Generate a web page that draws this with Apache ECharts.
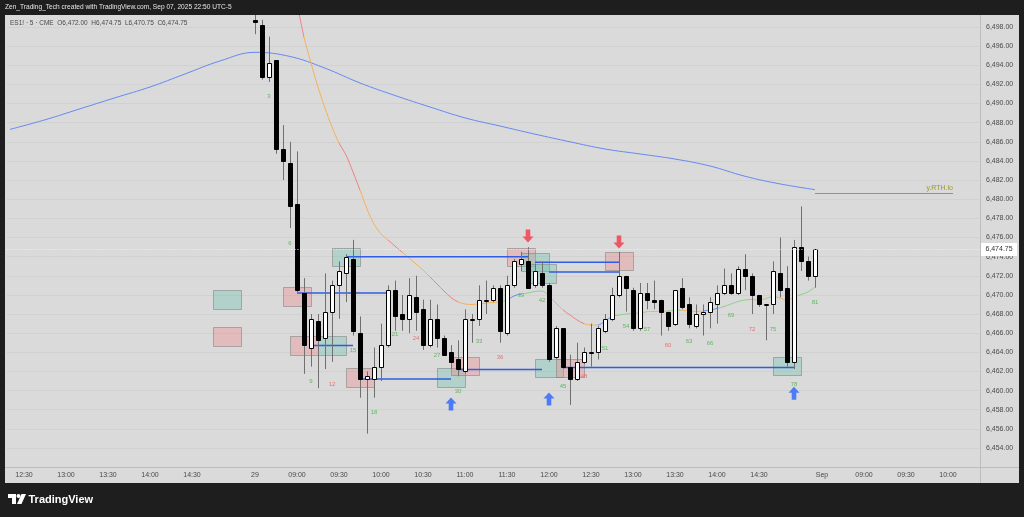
<!DOCTYPE html>
<html><head><meta charset="utf-8">
<script src="https://cdn.jsdelivr.net/npm/echarts@6/dist/echarts.min.js"></script>
<style>html,body{margin:0;padding:0;background:#1e1e1e;}#c{width:1024px;height:517px;}</style>
</head><body><div id="c"></div>
<script>
// ---- time axis sessions (day label, first bar, last bar), 5-minute bars ----
const sessions = [['28','12:20','15:10'],['29','08:30','15:10'],['Sep','08:30','10:20']];
const tickCats = ['28 12:30','28 13:00','28 13:30','28 14:00','28 14:30','29 08:30','29 09:00','29 09:30','29 10:00','29 10:30','29 11:00','29 11:30','29 12:00','29 12:30','29 13:00','29 13:30','29 14:00','29 14:30','Sep 08:30','Sep 09:00','Sep 09:30','Sep 10:00'];
const tickLabels = ['12:30','13:00','13:30','14:00','14:30','29','09:00','09:30','10:00','10:30','11:00','11:30','12:00','12:30','13:00','13:30','14:00','14:30','Sep','09:00','09:30','10:00'];
const firstBar = '29 08:30';

// ---- ES1! 5m candles, Aug 29 08:30 .. 15:10 ----
const opens  = [6498.75,6498.25,6492.75,6494.5,6485.25,6483.75,6479.5,6470.25,6464.5,6467.25,6465.5,6468.25,6471.0,6472.25,6473.75,6466.0,6461.25,6461.25,6462.5,6464.75,6470.5,6468.0,6467.5,6469.75,6468.5,6464.75,6467.5,6465.5,6464.0,6463.25,6462.0,6467.5,6467.5,6469.5,6469.5,6470.75,6466.0,6471.0,6473.25,6473.5,6471.0,6472.25,6471.0,6463.5,6466.5,6462.5,6461.25,6463.0,6464.0,6464.0,6466.25,6467.5,6470.0,6472.0,6470.5,6466.5,6470.25,6469.5,6469.5,6468.25,6467.0,6470.75,6469.0,6466.75,6468.0,6468.25,6469.0,6470.25,6471.0,6470.25,6472.75,6472.0,6470.0,6469.0,6469.0,6472.25,6470.75,6463.0,6475.0,6473.5,6472.0];
const highs  = [6499.25,6498.75,6497.0,6494.5,6487.75,6486.0,6485.0,6471.75,6468.0,6468.0,6472.25,6471.5,6473.5,6474.25,6475.75,6467.75,6462.0,6464.5,6467.0,6471.0,6471.5,6470.0,6471.75,6472.0,6469.5,6469.5,6469.0,6465.75,6464.75,6465.25,6468.5,6468.0,6471.0,6471.5,6471.0,6471.0,6472.0,6473.75,6474.5,6475.0,6473.25,6473.5,6471.25,6466.75,6466.5,6463.75,6465.0,6464.5,6467.0,6466.75,6468.0,6470.75,6474.5,6472.0,6470.75,6471.25,6471.25,6471.5,6469.5,6468.25,6470.5,6471.75,6469.75,6469.0,6469.0,6469.75,6471.0,6472.75,6472.25,6473.0,6474.25,6472.25,6470.0,6469.0,6473.5,6476.0,6473.0,6475.75,6479.25,6474.0,6474.75];
const lows   = [6497.25,6492.5,6492.25,6484.75,6482.0,6477.0,6470.25,6461.75,6462.5,6460.25,6462.25,6463.0,6467.5,6469.25,6465.75,6459.25,6455.5,6459.25,6461.0,6464.5,6466.25,6466.25,6466.0,6466.25,6464.25,6464.5,6464.5,6463.75,6462.25,6461.5,6461.75,6465.0,6466.75,6468.0,6469.25,6465.0,6465.75,6470.75,6472.5,6470.75,6470.75,6470.75,6463.0,6463.25,6462.25,6458.5,6461.0,6462.75,6462.5,6463.25,6466.0,6467.25,6469.75,6468.25,6466.25,6466.25,6468.5,6468.5,6465.75,6466.25,6466.75,6468.5,6466.5,6466.5,6465.75,6466.5,6467.0,6470.0,6470.0,6470.0,6470.5,6468.0,6468.75,6465.25,6468.0,6469.75,6462.5,6462.25,6472.5,6471.5,6470.75];
const closes = [6498.5,6492.75,6494.25,6485.25,6484.0,6479.25,6470.5,6464.75,6467.5,6465.25,6468.25,6471.0,6472.5,6474.0,6466.25,6461.25,6461.5,6462.5,6464.75,6470.5,6467.75,6467.5,6470.0,6468.25,6464.75,6467.5,6465.5,6463.75,6463.0,6462.25,6467.5,6467.5,6469.5,6469.5,6470.75,6466.25,6471.0,6473.5,6473.75,6470.75,6472.5,6471.0,6463.25,6466.5,6462.5,6461.25,6463.0,6464.0,6464.0,6466.5,6467.5,6470.0,6472.0,6470.75,6466.5,6470.25,6469.5,6469.25,6468.25,6466.75,6470.5,6468.75,6467.0,6468.0,6468.25,6469.25,6470.25,6471.0,6470.25,6472.75,6472.0,6470.0,6469.0,6469.0,6472.5,6470.5,6463.0,6475.0,6473.5,6472.0,6474.75];
const lastPrice = 6474.75;

// ---- long moving average (blue), bar index -> value ----
const maIdx = [0,5,10,15,20,25,30,35,40,45,50,55,60,65,70,75,80,85,90,95,100,105,110,115];
const maVal = [6487.3,6488.3,6489.45,6490.6,6491.73,6493.09,6494.45,6495.35,6494.92,6493.7,6492.15,6490.84,6489.64,6488.5,6487.65,6486.8,6486.0,6485.25,6484.73,6484.2,6483.47,6482.4,6481.6,6481.0];

// ---- colored session average, bar index 41..115 ----
const avgStart = 41;
const avgVal = [6500.5,6496.95,6494.24,6491.73,6489.53,6487.55,6485.88,6484.62,6482.85,6480.96,6478.98,6477.4,6476.37,6475.74,6475.1,6474.48,6473.86,6473.23,6472.6,6471.87,6471.14,6470.4,6469.73,6469.26,6469.05,6469.0,6469.05,6469.15,6469.2,6469.26,6469.47,6469.89,6470.1,6470.2,6470.36,6470.41,6469.89,6469.15,6468.42,6467.9,6467.38,6467.0,6466.85,6466.85,6467.27,6467.74,6467.9,6468.0,6468.06,6468.1,6468.24,6468.27,6468.27,6468.32,6468.37,6468.42,6468.32,6468.27,6468.32,6468.42,6468.58,6468.79,6469.05,6469.31,6469.47,6469.52,6469.47,6469.63,6469.84,6469.68,6469.42,6469.78,6470.04,6470.3,6470.83];
const avgColorFrom = [0,42,47,50,54,56,60,64,70,71,73,77,79,82,84,86,91,94,96,99,101,106,108,110,112];
const avgColorKey  = ['r','o','r','o','r','o','r','o','g','b','g','o','r','o','b','g','o','g','o','b','g','o','g','o','g'];

// ---- level lines: from bar, to bar, price ----
const lvlFrom  = [48,75,77,41,43,50,64,79];
const lvlTo    = [74,87,87,54,49,63,76,112];
const lvlPrice = [6474.0,6473.4,6472.4,6470.2,6464.7,6461.2,6462.2,6462.4];

// ---- zones: centre bar, top, bottom, kind (t=teal, p=pink) ----
const zoneBar  = [31,31,41,48,42,46,50,63,65,73,75,76,77,80,87,111];
const zoneTop  = [6470.5,6466.68,6470.86,6474.94,6465.7,6465.7,6462.33,6462.33,6463.48,6474.87,6474.35,6473.2,6463.27,6463.27,6474.52,6463.48];
const zoneBot  = [6468.5,6464.69,6468.87,6473.02,6463.72,6463.72,6460.34,6460.34,6461.56,6472.95,6472.43,6471.21,6461.35,6461.35,6472.6,6461.6];
const zoneKind = ['t','p','p','t','p','t','p','t','p','p','t','t','t','p','p','t'];

// ---- signal arrows ----
const upBar = [63,77,112], upPrice = [6458.6,6459.12,6459.72];
const dnBar = [74,87],     dnPrice = [6476.16,6475.53];

// ---- bar count labels ----
const countNum   = [3,6,9,12,15,18,21,24,27,30,33,36,39,42,45,48,51,54,57,60,63,66,69,72,75,78,81];
const countPrice = [6490.72,6475.39,6460.93,6460.69,6464.17,6457.73,6465.91,6465.46,6463.72,6459.88,6465.18,6463.44,6469.99,6469.39,6460.48,6461.45,6464.42,6466.68,6466.44,6464.69,6465.18,6464.94,6467.9,6466.44,6466.44,6460.69,6469.18];

// ---- previous RTH low ----
const rthLoFrom = 115, rthLoTo = 135, rthLoPrice = 6480.62, rthLoText = 'y.RTH.lo';

// ================= build =================
const cats = [];
sessions.forEach(([d, s, e]) => {
  let [h, m] = s.split(':').map(Number); const [eh, em] = e.split(':').map(Number);
  while (h * 60 + m <= eh * 60 + em) {
    cats.push(d + ' ' + String(h).padStart(2, '0') + ':' + String(m).padStart(2, '0'));
    m += 5; if (m >= 60) { m -= 60; h++; }
  }
});
const k0 = cats.indexOf(firstBar);
const candleData = opens.map((o, i) => [k0 + i, o, highs[i], lows[i], closes[i]]);
const colors = {r:'#f07f86', o:'#f5b057', g:'#8ccf8c', b:'#5d8ef2'};
const pieces = avgColorFrom.map((f, i) => {
  const p = {gte: f, color: colors[avgColorKey[i]]};
  if (i < avgColorFrom.length - 1) p.lt = avgColorFrom[i + 1];
  return p;
});
const FONT = '"Liberation Sans", Arial, sans-serif';

const chart = echarts.init(document.getElementById('c'), null, {renderer: 'canvas'});
chart.setOption({
  animation: false,
  backgroundColor: '#dadada',
  grid: {left: 6.5, right: 44.5, top: 7.864, bottom: 49.87},
  xAxis: {
    type: 'category', data: cats, boundaryGap: true,
    axisLine: {show: false}, axisTick: {show: false}, splitLine: {show: false},
    axisLabel: {
      interval: (i, v) => tickCats.indexOf(v) >= 0,
      formatter: v => tickLabels[tickCats.indexOf(v)] || '',
      fontSize: 7, color: '#4a4a4a', margin: 4.5, fontFamily: FONT
    }
  },
  yAxis: {
    type: 'value', position: 'right', min: 6452, max: 6500, interval: 2, scale: true,
    axisLine: {show: false}, axisTick: {show: false},
    splitLine: {show: true, lineStyle: {color: '#d1d1d1', width: 1}},
    axisLabel: {
      showMinLabel: false, showMaxLabel: false, margin: 6.5,
      formatter: v => v.toLocaleString('en-US', {minimumFractionDigits: 2, maximumFractionDigits: 2}),
      fontSize: 7, color: '#4a4a4a', fontFamily: FONT
    }
  },
  visualMap: {show: false, type: 'piecewise', seriesIndex: 1, dimension: 0, pieces: pieces},
  series: [
    { // 0 long MA
      type: 'line', data: maIdx.map((k, i) => [k, maVal[i]]), smooth: 0.4, symbol: 'none',
      lineStyle: {color: '#6688f2', width: 1}, z: 2
    },
    { // 1 colored average
      type: 'line', data: avgVal.map((v, i) => [avgStart + i, v]), smooth: 0.3, symbol: 'none',
      lineStyle: {width: 1}, z: 2
    },
    { // 2 zones
      type: 'custom', z: 3,
      data: zoneBar.map((k, i) => [k, zoneTop[i], zoneBot[i], zoneKind[i] === 't' ? 0 : 1]),
      encode: {x: 0, y: [1, 2]},
      renderItem: (params, api) => {
        const a = api.coord([api.value(0), api.value(1)]);
        const b = api.coord([api.value(0), api.value(2)]);
        const bw = api.size([1, 0])[0];
        const teal = api.value(3) === 0;
        return {type: 'rect', shape: {x: Math.round(a[0] - 2 * bw) + 0.5, y: Math.round(a[1]) + 0.5, width: Math.round(4 * bw), height: Math.round(b[1] - a[1])},
          style: {fill: teal ? 'rgba(110,195,175,0.38)' : 'rgba(240,135,135,0.36)', stroke: 'rgba(125,125,125,0.55)', lineWidth: 1}};
      }
    },
    { // 3 level lines
      type: 'custom', z: 4,
      data: lvlFrom.map((k, i) => [k, lvlTo[i], lvlPrice[i]]),
      encode: {x: [0, 1], y: 2},
      renderItem: (params, api) => {
        const a = api.coord([api.value(0), api.value(2)]);
        const b = api.coord([api.value(1), api.value(2)]);
        return {type: 'line', shape: {x1: a[0], y1: a[1], x2: b[0], y2: b[1]}, style: {stroke: '#2f5ce0', lineWidth: 1.5}};
      }
    },
    { // 4 candles
      type: 'custom', z: 5, data: candleData, encode: {x: 0, y: [1, 2, 3, 4]},
      renderItem: (params, api) => {
        const k = api.value(0), o = api.value(1), h = api.value(2), l = api.value(3), c = api.value(4);
        const pO = api.coord([k, o]), pC = api.coord([k, c]), pH = api.coord([k, h]), pL = api.coord([k, l]);
        const x = Math.round(pO[0]) + 0.5;
        const top = Math.round(Math.min(pO[1], pC[1])) + 0.5, bot = Math.round(Math.max(pO[1], pC[1])) + 0.5;
        const up = c >= o;
        return {type: 'group', children: [
          {type: 'line', shape: {x1: x, y1: pH[1], x2: x, y2: pL[1]}, style: {stroke: '#707070', lineWidth: 1}},
          {type: 'rect', shape: {x: x - 2, y: top, width: 4, height: Math.max(bot - top, 1)}, style: {fill: up ? '#ffffff' : '#000000', stroke: '#000000', lineWidth: 1}}
        ]};
      }
    },
    { // 5 up arrows
      type: 'scatter', z: 6, data: upBar.map((k, i) => [k, upPrice[i]]),
      symbol: 'path://M6,0 L12,6 L8.5,6 L8.5,13 L3.5,13 L3.5,6 L0,6 Z', symbolSize: [11, 13],
      itemStyle: {color: '#2962ff'}
    },
    { // 6 down arrows
      type: 'scatter', z: 6, data: dnBar.map((k, i) => [k, dnPrice[i]]),
      symbol: 'path://M3.5,0 L8.5,0 L8.5,7 L12,7 L6,13 L0,7 L3.5,7 Z', symbolSize: [11, 13],
      itemStyle: {color: '#f23645'}
    },
    { // 7 count labels
      type: 'custom', z: 6,
      data: countNum.map((n, i) => [k0 + n - 1, countPrice[i], n]),
      encode: {x: 0, y: 1},
      renderItem: (params, api) => {
        const p = api.coord([api.value(0), api.value(1)]);
        const n = api.value(2);
        return {type: 'text', x: p[0], y: p[1], style: {text: String(n), fill: n % 12 === 0 ? '#e57373' : '#5fb85f', font: '6px ' + FONT, align: 'center', verticalAlign: 'middle'}};
      }
    },
    { // 8 previous RTH low
      type: 'custom', z: 4, data: [[rthLoFrom, rthLoTo, rthLoPrice]], encode: {x: [0, 1], y: 2},
      renderItem: (params, api) => {
        const a = api.coord([api.value(0), api.value(2)]);
        const b = api.coord([api.value(1), api.value(2)]);
        return {type: 'group', children: [
          {type: 'line', shape: {x1: a[0], y1: Math.round(a[1]) + 0.5, x2: b[0] - 2, y2: Math.round(a[1]) + 0.5}, style: {stroke: '#9a9a45', lineWidth: 1}},
          {type: 'text', x: b[0] - 2, y: a[1] - 5, style: {text: rthLoText, fill: '#9c9c1e', font: '7px ' + FONT, align: 'right', verticalAlign: 'middle'}}
        ]};
      }
    },
    { // 9 last price line + label
      type: 'custom', z: 7, data: [[k0, lastPrice]], encode: {x: 0, y: 1},
      renderItem: (params, api) => {
        const p = api.coord([api.value(0), api.value(1)]);
        const cs = params.coordSys;
        const y = Math.round(p[1]) + 0.5;
        return {type: 'group', children: [
          {type: 'line', shape: {x1: cs.x, y1: y, x2: cs.x + cs.width, y2: y}, style: {stroke: '#f4f4f4', lineWidth: 1, lineDash: [1, 2]}},
          {type: 'rect', shape: {x: 981, y: y - 6.5, width: 36, height: 13}, style: {fill: '#ffffff'}},
          {type: 'text', x: 999, y: y, style: {text: '6,474.75', fill: '#333333', font: '7px ' + FONT, align: 'center', verticalAlign: 'middle'}}
        ]};
      }
    }
  ],
  graphic: [
    {type: 'rect', shape: {x: 0, y: 0, width: 1024, height: 15}, style: {fill: '#1e1e1e'}, z: 100},
    {type: 'rect', shape: {x: 0, y: 0, width: 5, height: 517}, style: {fill: '#1e1e1e'}, z: 100},
    {type: 'rect', shape: {x: 1019, y: 0, width: 5, height: 517}, style: {fill: '#1e1e1e'}, z: 100},
    {type: 'rect', shape: {x: 0, y: 483, width: 1024, height: 34}, style: {fill: '#1e1e1e'}, z: 100},
    {type: 'line', shape: {x1: 980.5, y1: 15, x2: 980.5, y2: 483}, style: {stroke: '#bdbdbd', lineWidth: 1}, z: 90},
    {type: 'line', shape: {x1: 5, y1: 467.5, x2: 1019, y2: 467.5}, style: {stroke: '#bdbdbd', lineWidth: 1}, z: 90},
    {type: 'text', x: 5, y: 7.5, style: {text: 'Zen_Trading_Tech created with TradingView.com, Sep 07, 2025 22:50 UTC-5', fill: '#e6e6e6', font: '6.6px ' + FONT, verticalAlign: 'middle'}, z: 101},
    {type: 'text', x: 10, y: 23.5, style: {text: 'ES1! · 5 · CME  O6,472.00  H6,474.75  L6,470.75  C6,474.75', fill: '#4a4a4a', font: '6.5px ' + FONT, verticalAlign: 'middle'}, z: 101},
    {type: 'polygon', shape: {points: [[8,494],[16,494],[16,504],[12,504],[12,498],[8,498]]}, style: {fill: '#ffffff'}, z: 101},
    {type: 'circle', shape: {cx: 18.5, cy: 496, r: 2}, style: {fill: '#ffffff'}, z: 101},
    {type: 'polygon', shape: {points: [[21.5,494],[26,494],[21.5,504],[17,504]]}, style: {fill: '#ffffff'}, z: 101},
    {type: 'text', x: 28.5, y: 499.5, style: {text: 'TradingView', fill: '#ffffff', font: 'bold 11px ' + FONT, verticalAlign: 'middle'}, z: 101}
  ]
});
</script></body></html>
